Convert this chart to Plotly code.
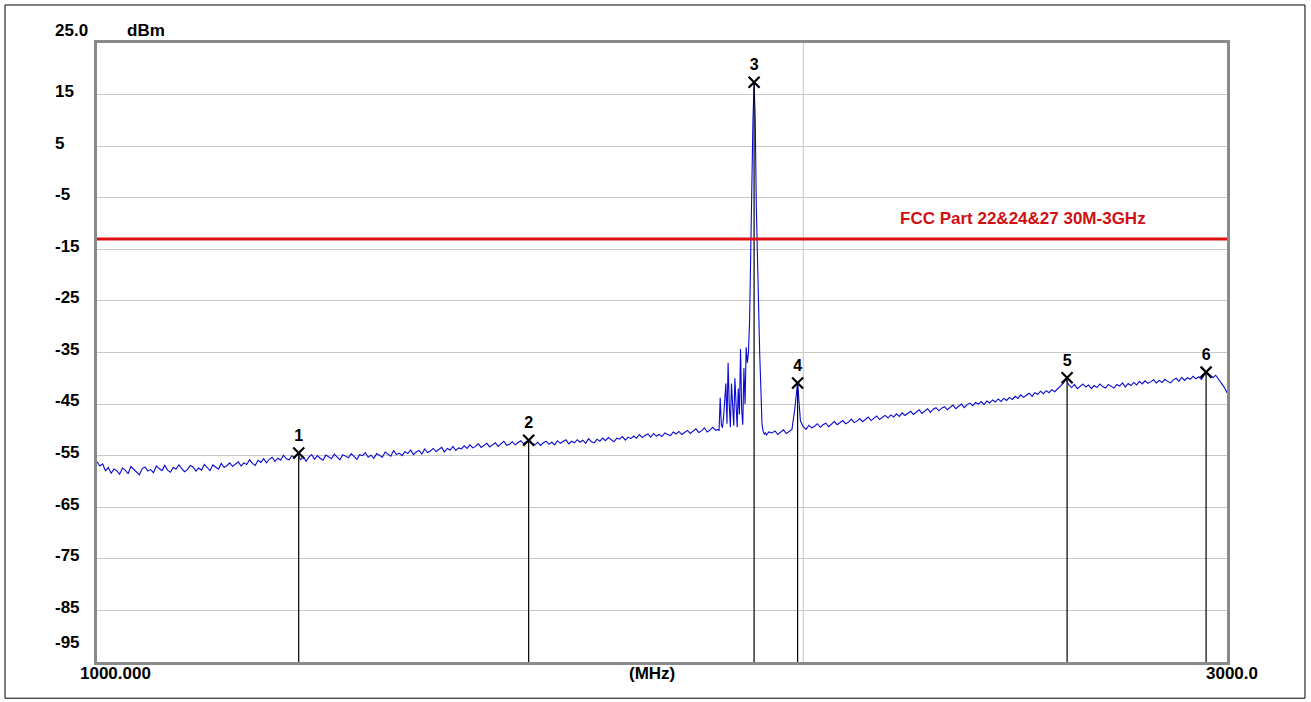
import plotly.graph_objects as go

# ---------------- data ----------------
# sweep segment A: 1000..2100 MHz, 5 MHz step
seg_a_start, seg_a_step = 1000, 5
level_a = [
    -56.2, -57.0, -56.6, -57.9, -57.3, -58.4, -57.6, -57.9, -58.6, -57.4,
    -57.8, -58.5, -57.1, -57.6, -58.2, -58.7, -57.5, -57.2, -58.0, -57.7,
    -58.3, -57.0, -57.5, -57.9, -56.9, -57.8, -58.2, -57.3, -57.6, -56.8,
    -57.5, -58.1, -57.7, -56.9, -57.2, -58.0, -57.4, -57.8, -56.7, -57.3,
    -57.9, -56.8, -57.2, -57.6, -56.5, -57.3, -56.9, -56.4, -57.1, -56.7,
    -56.2, -57.0, -56.4, -56.7, -55.8, -56.5, -56.9, -55.9, -56.3, -55.6,
    -56.4, -55.7, -55.3, -56.1, -55.5, -55.9, -54.9, -55.6, -55.8, -55.0,
    -55.4, -54.6, -55.8, -55.2, -56.1, -55.3, -54.8, -55.7, -55.0, -55.5,
    -55.9, -54.9, -55.2, -55.6, -54.7, -55.3, -55.8, -54.8, -55.1, -55.4,
    -54.6, -55.2, -55.7, -54.8, -55.0, -54.4, -55.3, -54.9, -55.5, -54.6,
    -54.9, -55.3, -54.3, -54.7, -55.1, -54.0, -54.8, -54.5, -55.0, -54.2,
    -54.6, -53.9, -54.8, -54.3, -54.0, -54.7, -53.7, -54.4, -54.1, -53.6,
    -54.2, -53.8, -53.4, -54.3, -53.6, -53.9, -53.2, -54.0, -53.5, -53.7,
    -53.1, -53.6, -52.9, -53.5, -53.2, -52.7, -53.4, -53.0, -52.6, -53.3,
    -52.9, -52.5, -53.2, -52.6, -52.2, -53.0, -52.8, -52.3, -52.9, -52.5,
    -52.1, -52.7, -52.3, -51.9, -52.6, -52.9, -52.4, -53.0, -52.5, -52.2,
    -52.8, -52.4, -52.9, -52.1, -52.6, -52.3, -51.9, -52.7, -52.2, -52.5,
    -51.9, -52.4, -52.0, -52.6, -51.7, -52.3, -52.5, -51.8, -52.2, -51.6,
    -52.1, -51.5, -51.9, -52.3, -51.6, -51.8, -51.3, -52.0, -51.4, -51.7,
    -51.2, -51.6, -50.9, -51.5, -51.1, -50.8, -51.4, -50.7, -51.2, -50.9,
    -51.3, -50.6, -50.9, -51.1, -50.4, -50.8, -50.3, -50.9, -50.5, -50.1,
    -50.7, -50.3, -49.8, -50.5, -50.2, -49.6, -50.4, -50.0, -49.5, -50.1,
    -49.9,
]
# sweep segment B: 2101..2189 MHz, 2 MHz step (spurs + carrier)
seg_b_start, seg_b_step = 2101, 2
level_b = [
    -50.2, -43.8, -49.0, -49.6, -47.5, -43.0, -41.0, -48.8, -37.0, -45.0,
    -49.5, -41.0, -47.0, -49.2, -40.0, -44.0, -49.5, -42.0, -47.0, -34.3,
    -46.0, -49.0, -38.0, -45.0, -34.0, -37.0, -35.0, -29.0, -15.0, -2.0,
    10.0, 17.4, 10.4, -7.0, -19.0, -28.0, -35.5, -42.0, -48.9, -50.3,
    -50.8, -50.6, -51.0, -50.7, -50.4,
]
# sweep segment C: 2195..3000 MHz, 5 MHz step
seg_c_start, seg_c_step = 2195, 5
level_c = [
    -50.6,
    -50.2, -50.9, -50.4, -50.0, -50.7, -50.3, -49.9, -46.0, -40.8, -48.3,
    -49.4, -49.9, -49.1, -49.6, -49.3, -48.8, -49.5, -49.0, -48.7, -49.4,
    -48.9, -48.4, -49.0, -48.6, -48.2, -48.8, -48.5, -47.9, -48.6, -48.3,
    -47.8, -48.4, -47.9, -47.5, -48.2, -47.7, -47.3, -48.0, -47.6, -47.2,
    -47.7, -47.1, -47.5, -46.9, -47.4, -46.7, -47.2, -46.8, -46.4, -47.0,
    -46.5, -46.1, -46.8, -46.3, -45.9, -46.6, -46.0, -45.7, -46.3, -45.8,
    -45.5, -46.1, -45.6, -45.2, -45.9, -45.4, -45.0, -45.7, -45.1, -44.8,
    -45.3, -44.7, -45.0, -44.5, -45.1, -44.4, -44.8, -44.2, -44.6, -44.0,
    -44.5, -43.9, -44.3, -43.7, -44.1, -43.5, -43.9, -43.2, -43.7, -43.3,
    -42.9, -43.5, -42.8, -43.1, -42.5, -43.0, -42.4, -42.8, -42.2, -42.6,
    -42.1, -41.6, -41.0, -40.2, -41.3, -41.8, -41.2, -42.0, -41.5, -41.1,
    -41.7, -41.3, -42.0, -41.4, -41.8, -41.1, -41.6, -41.9, -41.2, -41.5,
    -41.9, -41.2, -41.5, -40.9, -41.7, -41.0, -41.4, -40.8, -41.3, -40.6,
    -41.1, -40.5, -41.0, -40.7, -40.3, -40.9, -40.4, -40.8, -40.2, -40.6,
    -40.9, -40.3, -40.0, -40.6, -39.8, -40.4, -39.9, -40.2, -39.6, -40.1,
    -39.7, -40.2, -39.3, -38.9, -39.5, -39.9, -39.4, -40.2, -40.8, -41.7,
    -42.8,
]

marker_labels = ["1", "2", "3", "4", "5", "6"]
marker_freq = [1357, 1764, 2163, 2240, 2717, 2963]
marker_level = [-54.5, -52.0, 17.4, -40.9, -39.9, -38.8]

limit_level = -13.0
limit_label = "FCC Part 22&24&27 30M-3GHz"
display_line_freq = 2250

x_start, x_stop = 1000, 3000
y_bottom, y_top = -95, 25
y_tick_values = [15, 5, -5, -15, -25, -35, -45, -55, -65, -75, -85]
y_top_label = "25.0"
y_bottom_label = "-95"
y_unit = "dBm"
x_start_label = "1000.000"
x_unit = "(MHz)"
x_stop_label = "3000.0"

# ---------------- build trace ----------------
freqs = ([seg_a_start + i * seg_a_step for i in range(len(level_a))]
         + [seg_b_start + i * seg_b_step for i in range(len(level_b))]
         + [seg_c_start + i * seg_c_step for i in range(len(level_c))])
levels = level_a + level_b + level_c

FONT = "Liberation Sans, Arial, sans-serif"
FS = 17

fig = go.Figure()

# marker drop lines
vx, vy = [], []
for f, l in zip(marker_freq, marker_level):
    vx += [f, f, None]
    vy += [l, y_bottom, None]

fig.add_trace(go.Scatter(x=freqs, y=levels, mode="lines",
                         line=dict(color="#0a0ad0", width=1.1), hoverinfo="skip"))
fig.add_trace(go.Scatter(x=vx, y=vy, mode="lines",
                         line=dict(color="black", width=1.2), hoverinfo="skip"))
fig.add_trace(go.Scatter(x=[x_start, x_stop], y=[limit_level, limit_level], mode="lines",
                         line=dict(color="#e01010", width=3), hoverinfo="skip"))
fig.add_trace(go.Scatter(x=marker_freq, y=marker_level, mode="markers+text",
                         text=marker_labels, textposition="top center",
                         textfont=dict(family=FONT, size=16, color="black", weight="bold"),
                         marker=dict(symbol="x-thin", size=11,
                                     line=dict(color="black", width=2.2)),
                         hoverinfo="skip"))

fig.add_shape(type="line", xref="x", yref="paper", x0=display_line_freq, x1=display_line_freq,
              y0=0, y1=1, line=dict(color="#c4c4c4", width=1), layer="below")

# outer frame
fig.add_shape(type="rect", xref="paper", yref="paper",
              x0=-0.0814, x1=1.069, y0=-0.0585, y1=1.0614,
              line=dict(color="black", width=1))

ann = []
for v in y_tick_values:
    ann.append(dict(x=-0.039, xref="paper", xanchor="left", y=v + 0.6, yref="y",
                    yanchor="middle", text=str(v), showarrow=False))
ann.append(dict(x=-0.039, xref="paper", xanchor="left", y=1.021, yref="paper",
                yanchor="middle", text=y_top_label, showarrow=False))
ann.append(dict(x=0.0248, xref="paper", xanchor="left", y=1.021, yref="paper",
                yanchor="middle", text=y_unit, showarrow=False))
ann.append(dict(x=-0.039, xref="paper", xanchor="left", y=0.032, yref="paper",
                yanchor="middle", text=y_bottom_label, showarrow=False))
ann.append(dict(x=0.0168, xref="paper", xanchor="center", y=-0.0178, yref="paper",
                yanchor="middle", text=x_start_label, showarrow=False))
ann.append(dict(x=0.491, xref="paper", xanchor="center", y=-0.0178, yref="paper",
                yanchor="middle", text=x_unit, showarrow=False))
ann.append(dict(x=1.0044, xref="paper", xanchor="center", y=-0.0178, yref="paper",
                yanchor="middle", text=x_stop_label, showarrow=False))
ann.append(dict(x=0.709, xref="paper", xanchor="left", y=0.717, yref="paper",
                yanchor="middle", text=limit_label, showarrow=False,
                font=dict(family=FONT, size=FS, color="#d01010", weight="bold")))

fig.update_layout(
    width=1311, height=702, autosize=False,
    margin=dict(l=97, r=84, t=43, b=40),
    paper_bgcolor="white", plot_bgcolor="white",
    showlegend=False,
    font=dict(family=FONT, size=FS, color="black", weight="bold"),
    annotations=ann,
    xaxis=dict(range=[x_start, x_stop], showgrid=False, zeroline=False,
               showticklabels=False, ticks="", showline=True, mirror=True,
               linecolor="#8a8a8a", linewidth=3),
    yaxis=dict(range=[y_bottom, y_top], tick0=5, dtick=10, showgrid=True,
               gridcolor="#c8c8c8", gridwidth=1, zeroline=False,
               showticklabels=False, ticks="", showline=True, mirror=True,
               linecolor="#8a8a8a", linewidth=3),
)

fig.write_html("out.html", config={"displayModeBar": False},
               post_script="document.body.style.margin='0';")
